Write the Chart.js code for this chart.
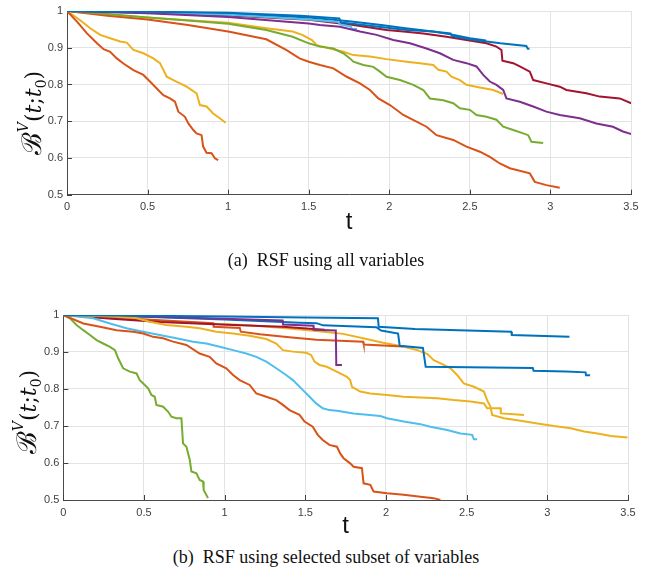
<!DOCTYPE html>
<html>
<head>
<meta charset="utf-8">
<script src="https://cdn.jsdelivr.net/npm/chart.js@4.4.1/dist/chart.umd.min.js"></script>
<style>
  html, body { margin:0; padding:0; background:#fff; }
  #wrap { position:relative; width:652px; height:581px; overflow:hidden; }
  canvas { position:absolute; left:0; }
  .ylab { position:absolute; white-space:nowrap; font-family:"DejaVu Serif", "Liberation Serif", serif; font-size:22px; color:#111;
          transform:translate(-50%,-50%) rotate(-90deg); line-height:1; }
  .ylab .B { font-size:27px; }
  .ylab i { font-style:italic; }
  .ylab sup { font-size:14px; vertical-align:13px; font-style:italic; }
  .ylab sub { font-size:14px; vertical-align:-5px; }
  .cap { position:absolute; left:0; width:652px; text-align:center; font-family:"Liberation Serif", "Times New Roman", serif; font-size:18px; color:#111; transform:translateY(-50%); white-space:pre; }
</style>
</head>
<body>
<div id="wrap">
  <canvas id="c1" width="652" height="237" style="top:0px;width:652px;height:237px"></canvas>
  <canvas id="c2" width="652" height="241" style="top:300px;width:652px;height:241px"></canvas>
  <div class="ylab" style="left:32px;top:113px"><span class="B">ℬ</span><sup>V</sup>(<i>t</i>;<i>t</i><sub>0</sub>)</div>
  <div class="ylab" style="left:27px;top:412px"><span class="B">ℬ</span><sup>V</sup>(<i>t</i>;<i>t</i><sub>0</sub>)</div>
  <div class="cap" style="top:260px">(a)  RSF using all variables</div>
  <div class="cap" style="top:557px">(b)  RSF using selected subset of variables</div>
</div>
<script>
// ---------- tick values ----------
const xTicks = [0, 0.5, 1, 1.5, 2, 2.5, 3, 3.5];
const yTicks = [0.5, 0.6, 0.7, 0.8, 0.9, 1];

// ---------- (a) RSF using all variables ----------
const a_blue1_t = [0,0.5,1,1.3,1.45,1.69,1.70,1.92,2.11,2.27,2.38,2.39,2.52,2.69,2.85,2.86,2.87];
const a_blue1_v = [1,0.998,0.995,0.99,0.987,0.98,0.969,0.958,0.948,0.944,0.939,0.932,0.922,0.912,0.905,0.897,0.897];
const a_orange1_t = [0,0.062,0.124,0.186,0.227,0.268,0.309,0.35,0.412,0.474,0.515,0.557,0.598,0.639,0.67,0.691,0.732,0.753,0.784,0.804,0.835,0.845,0.866,0.897,0.918,0.938];
const a_orange1_v = [1,0.971,0.939,0.912,0.896,0.889,0.871,0.857,0.839,0.826,0.808,0.789,0.771,0.762,0.753,0.726,0.712,0.694,0.676,0.667,0.662,0.631,0.614,0.613,0.599,0.594];
const a_yellow1_t = [0,0.082,0.144,0.206,0.268,0.33,0.371,0.412,0.474,0.536,0.577,0.619,0.66,0.701,0.742,0.804,0.825,0.866,0.907,0.948,0.984];
const a_yellow1_v = [1,0.975,0.953,0.935,0.926,0.917,0.914,0.894,0.885,0.871,0.858,0.821,0.812,0.803,0.794,0.776,0.744,0.74,0.721,0.708,0.696];
const a_purple_t = [0,0.5,1,1.5,1.57,1.694,1.818,1.921,2.025,2.128,2.231,2.314,2.397,2.479,2.541,2.583,2.624,2.665,2.707,2.727,2.81,2.893,2.975,3.058,3.182,3.285,3.388,3.45,3.502];
const a_purple_v = [1,0.994,0.984,0.966,0.962,0.957,0.944,0.935,0.921,0.912,0.898,0.885,0.867,0.858,0.849,0.826,0.808,0.799,0.785,0.762,0.753,0.74,0.726,0.717,0.708,0.694,0.685,0.672,0.665];
const a_green_t = [0,0.25,0.5,0.75,1,1.237,1.4,1.5,1.57,1.653,1.715,1.756,1.777,1.839,1.901,1.942,1.983,2.066,2.149,2.211,2.252,2.335,2.397,2.438,2.5,2.541,2.603,2.665,2.707,2.769,2.831,2.862,2.882,2.955];
const a_green_v = [1,0.992,0.982,0.974,0.965,0.948,0.93,0.912,0.903,0.898,0.885,0.871,0.862,0.853,0.848,0.835,0.821,0.812,0.799,0.785,0.762,0.757,0.749,0.735,0.731,0.717,0.712,0.704,0.685,0.676,0.667,0.662,0.644,0.641];
const a_lightblue_t = [0,0.5,1,1.5,1.68,1.7,1.76,1.77,1.8];
const a_lightblue_v = [1,0.996,0.99,0.977,0.97,0.963,0.958,0.951,0.951];
const a_darkred_t = [0,0.5,1,1.5,1.777,1.983,2.087,2.211,2.355,2.479,2.603,2.665,2.696,2.702,2.769,2.81,2.872,2.893,2.975,3.058,3.099,3.223,3.306,3.43,3.502];
const a_darkred_v = [1,0.995,0.988,0.976,0.962,0.948,0.944,0.939,0.93,0.921,0.912,0.903,0.894,0.865,0.858,0.849,0.835,0.812,0.803,0.794,0.785,0.776,0.767,0.762,0.749];
const a_blue2_t = [0,0.5,1,1.5,1.75,1.95,2.1,2.27,2.4,2.5,2.6];
const a_blue2_v = [1,0.997,0.993,0.982,0.972,0.962,0.953,0.944,0.935,0.926,0.92];
const a_orange2_t = [0,0.25,0.5,0.75,1,1.237,1.36,1.443,1.5,1.57,1.653,1.736,1.818,1.88,1.932,2.004,2.087,2.169,2.231,2.293,2.397,2.479,2.562,2.624,2.686,2.748,2.872,2.903,2.975,3.058];
const a_orange2_v = [1,0.987,0.977,0.962,0.944,0.923,0.894,0.871,0.862,0.853,0.844,0.821,0.803,0.785,0.762,0.744,0.717,0.699,0.685,0.662,0.649,0.631,0.617,0.603,0.585,0.572,0.558,0.535,0.526,0.519];
const a_yellow2_t = [0,0.25,0.5,0.75,1,1.237,1.4,1.46,1.52,1.55,1.632,1.715,1.777,1.88,1.983,2.107,2.19,2.273,2.304,2.355,2.386,2.438,2.479,2.562,2.645,2.707];
const a_yellow2_v = [1,0.99,0.982,0.975,0.968,0.953,0.944,0.935,0.921,0.907,0.898,0.889,0.88,0.876,0.869,0.862,0.858,0.853,0.84,0.835,0.821,0.812,0.799,0.792,0.785,0.774];

// ---------- (b) RSF using selected subset of variables ----------
const b_blue1_t = [0,0.5,1,1.5,1.95,1.955,2.18,2.776,2.78,3.137];
const b_blue1_v = [1,0.998,0.996,0.993,0.991,0.968,0.962,0.955,0.946,0.941];
const b_orange1_t = [0,0.124,0.227,0.33,0.433,0.495,0.557,0.619,0.68,0.763,0.845,0.907,0.948,1.01,1.052,1.093,1.155,1.196,1.258,1.32,1.361,1.402,1.464,1.495,1.546,1.577,1.608,1.649,1.696,1.716,1.737,1.778,1.799,1.851,1.861,1.903,1.923,2.006,2.11,2.213,2.296,2.337];
const b_orange1_v = [1,0.977,0.968,0.959,0.955,0.95,0.941,0.937,0.928,0.919,0.896,0.887,0.869,0.856,0.838,0.824,0.811,0.788,0.779,0.77,0.757,0.743,0.73,0.712,0.698,0.676,0.662,0.649,0.644,0.626,0.613,0.599,0.59,0.586,0.545,0.541,0.523,0.518,0.514,0.509,0.505,0.5];
const b_yellow1_t = [0,0.3,0.45,0.536,0.639,0.763,0.845,0.948,1.052,1.155,1.258,1.32,1.361,1.423,1.505,1.536,1.557,1.588,1.633,1.675,1.716,1.758,1.778,1.789,1.84,1.903,2.006,2.11,2.213,2.317,2.42,2.524,2.607,2.627,2.71,2.712,2.793,2.855];
const b_yellow1_v = [1,0.996,0.992,0.982,0.973,0.968,0.964,0.955,0.95,0.944,0.935,0.923,0.905,0.901,0.898,0.892,0.874,0.865,0.86,0.851,0.842,0.833,0.824,0.806,0.793,0.788,0.784,0.779,0.777,0.775,0.77,0.766,0.761,0.748,0.748,0.734,0.732,0.73];
const b_purple_t = [0,0.5,1,1.36,1.362,1.55,1.552,1.689,1.692,1.727];
const b_purple_v = [1,0.996,0.99,0.985,0.974,0.971,0.96,0.958,0.865,0.865];
const b_green_t = [0,0.041,0.082,0.124,0.165,0.206,0.247,0.289,0.32,0.34,0.371,0.412,0.454,0.474,0.505,0.526,0.546,0.567,0.577,0.619,0.649,0.67,0.701,0.732,0.742,0.763,0.784,0.794,0.825,0.845,0.866,0.87,0.897];
const b_green_v = [1,0.991,0.973,0.959,0.946,0.932,0.923,0.914,0.905,0.883,0.856,0.847,0.842,0.824,0.811,0.802,0.784,0.779,0.757,0.752,0.739,0.725,0.721,0.721,0.653,0.644,0.608,0.577,0.572,0.554,0.55,0.527,0.505];
const b_lightblue_t = [0,0.186,0.289,0.392,0.495,0.598,0.701,0.804,0.887,0.969,1.052,1.134,1.196,1.258,1.32,1.381,1.423,1.485,1.526,1.567,1.608,1.649,1.696,1.799,1.965,2.006,2.11,2.213,2.275,2.379,2.462,2.534,2.545,2.565];
const b_lightblue_v = [1,0.991,0.977,0.964,0.955,0.946,0.937,0.928,0.923,0.914,0.905,0.896,0.887,0.874,0.856,0.838,0.824,0.797,0.779,0.761,0.748,0.743,0.741,0.734,0.727,0.721,0.712,0.705,0.698,0.689,0.68,0.676,0.664,0.664];
const b_darkred_t = [0,0.3,0.6,0.9,1.22,1.36,1.55,1.62];
const b_darkred_v = [1,0.99,0.981,0.976,0.97,0.968,0.962,0.96];
const b_blue2_t = [0,0.5,1,1.466,1.569,1.61,1.94,1.97,2.075,2.085,2.229,2.246,2.91,2.915,3.117,3.237,3.24,3.265];
const b_blue2_v = [1,0.995,0.988,0.979,0.978,0.972,0.967,0.958,0.95,0.917,0.911,0.86,0.857,0.849,0.847,0.845,0.837,0.837];
const b_orange2_t = [0,0.3,0.6,0.929,0.932,1.094,1.1,1.218,1.4,1.569,1.858,1.862,2.105];
const b_orange2_v = [1,0.993,0.986,0.978,0.968,0.965,0.955,0.948,0.94,0.933,0.928,0.92,0.915];
const b_yellow2_t = [0,0.433,0.845,1.156,1.362,1.569,1.734,1.879,1.982,2.105,2.193,2.255,2.296,2.358,2.4,2.441,2.482,2.545,2.607,2.627,2.648,2.658,2.731,2.834,2.938,3.041,3.145,3.228,3.311,3.394,3.497];
const b_yellow2_v = [1,0.988,0.978,0.972,0.965,0.957,0.949,0.935,0.925,0.915,0.905,0.895,0.878,0.865,0.856,0.838,0.815,0.806,0.793,0.77,0.752,0.73,0.721,0.714,0.707,0.7,0.694,0.685,0.68,0.673,0.669];

// ---------- styling ----------
const COL = { blue:'#0072BD', orange:'#D95319', yellow:'#EDB120', purple:'#7E2F8E',
              green:'#77AC30', lightblue:'#4DBEEE', darkred:'#A2142F' };

function series(t, v, color) {
  const n = Math.min(t.length, v.length);
  const pts = [];
  for (let i = 0; i < n; i++) pts.push({ x: t[i], y: v[i] });
  return { data: pts, borderColor: color, backgroundColor: color, borderWidth: 2,
           pointRadius: 0, showLine: true, tension: 0, fill: false };
}

const innerTicks = {
  id: 'innerTicks',
  beforeDatasetsDraw(chart) {
    const { ctx, chartArea: a, scales } = chart;
    ctx.save();
    ctx.strokeStyle = '#404040';
    ctx.lineWidth = 1;
    ctx.beginPath();
    yTicks.forEach(v => { const p = Math.round(scales.y.getPixelForValue(v)) + 0.5; ctx.moveTo(a.left, p); ctx.lineTo(a.left + 5, p); });
    xTicks.forEach(v => { const p = Math.round(scales.x.getPixelForValue(v)) + 0.5; ctx.moveTo(p, a.bottom); ctx.lineTo(p, a.bottom - 5); });
    ctx.stroke();
    ctx.restore();
  }
};

function makeChart(id, datasets, yWidth, xHeight, padTop, padRight) {
  return new Chart(document.getElementById(id), {
    type: 'scatter',
    data: { datasets },
    plugins: [innerTicks],
    options: {
      responsive: false, animation: false, devicePixelRatio: 1,
      layout: { padding: { left: 0, right: padRight, top: padTop, bottom: 0 } },
      plugins: { legend: { display: false }, tooltip: { enabled: false } },
      scales: {
        x: {
          type: 'linear', min: 0, max: 3.5,
          afterBuildTicks: s => { s.ticks = xTicks.map(v => ({ value: v })); },
          afterFit: s => { s.height = xHeight; },
          ticks: { color: '#404040', font: { family: 'Liberation Sans', size: 11 }, padding: 6, maxRotation: 0,
                   callback: v => String(v) },
          grid: { color: '#e3e3e3', lineWidth: 1, drawTicks: false },
          border: { display: true, color: '#4a4a4a', width: 1 },
          title: { display: true, text: 't', color: '#111', font: { family: 'Liberation Sans', size: 24 }, padding: { top: 0, bottom: 0 } }
        },
        y: {
          type: 'linear', min: 0.5, max: 1,
          afterBuildTicks: s => { s.ticks = yTicks.map(v => ({ value: v })); },
          afterFit: s => { s.width = yWidth; },
          ticks: { color: '#404040', font: { family: 'Liberation Sans', size: 11 }, padding: 4,
                   callback: v => String(v) },
          grid: { color: '#e3e3e3', lineWidth: 1, drawTicks: false },
          border: { display: true, color: '#4a4a4a', width: 1 }
        }
      }
    }
  });
}

makeChart('c1', [
  series(a_blue1_t, a_blue1_v, COL.blue),
  series(a_orange1_t, a_orange1_v, COL.orange),
  series(a_yellow1_t, a_yellow1_v, COL.yellow),
  series(a_purple_t, a_purple_v, COL.purple),
  series(a_green_t, a_green_v, COL.green),
  series(a_lightblue_t, a_lightblue_v, COL.lightblue),
  series(a_darkred_t, a_darkred_v, COL.darkred),
  series(a_blue2_t, a_blue2_v, COL.blue),
  series(a_orange2_t, a_orange2_v, COL.orange),
  series(a_yellow2_t, a_yellow2_v, COL.yellow)
], 67, 42.3, 11, 21);

makeChart('c2', [
  series(b_blue1_t, b_blue1_v, COL.blue),
  series(b_orange1_t, b_orange1_v, COL.orange),
  series(b_yellow1_t, b_yellow1_v, COL.yellow),
  series(b_purple_t, b_purple_v, COL.purple),
  series(b_green_t, b_green_v, COL.green),
  series(b_lightblue_t, b_lightblue_v, COL.lightblue),
  series(b_darkred_t, b_darkred_v, COL.darkred),
  series(b_blue2_t, b_blue2_v, COL.blue),
  series(b_orange2_t, b_orange2_v, COL.orange),
  series(b_yellow2_t, b_yellow2_v, COL.yellow)
], 63.3, 41, 15, 24);
</script>
</body>
</html>
